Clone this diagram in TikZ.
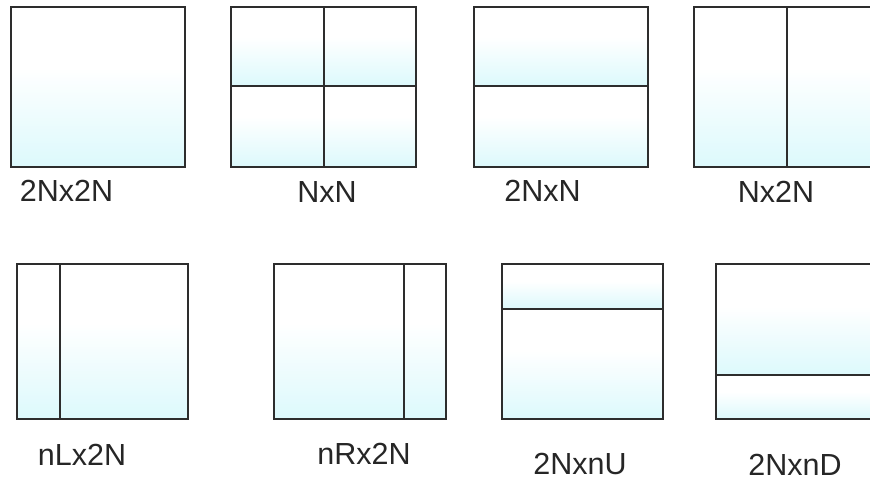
\documentclass[tikz,border=0pt]{standalone}
\usepackage{fontspec}
\setmainfont{Liberation Sans}
\definecolor{lc}{RGB}{220,249,252}
\definecolor{edge}{RGB}{45,45,45}
\pgfdeclareverticalshading{cellshade}{100bp}{color(0bp)=(lc); color(25bp)=(lc); color(56bp)=(white); color(100bp)=(white)}
\begin{document}
\begin{tikzpicture}[x=1pt,y=-1pt,
  cell/.style={shading=cellshade, draw=edge, line width=1.2pt},
  lbl/.style={inner sep=0pt, font=\fontsize{30.5}{31}\selectfont, text=black!85}]
\useasboundingbox (0,0) rectangle (870,481);
\begin{scope}
\clip (0,0) rectangle (870,481);
% 2Nx2N
\shade[cell] (11,7) rectangle (185,167);
% NxN
\shade[cell] (231,7) rectangle (324,86);
\shade[cell] (324,7) rectangle (416,86);
\shade[cell] (231,86) rectangle (324,167);
\shade[cell] (324,86) rectangle (416,167);
% 2NxN
\shade[cell] (474,7) rectangle (648,86);
\shade[cell] (474,86) rectangle (648,167);
% Nx2N
\shade[cell] (694,7) rectangle (787,167);
\shade[cell] (787,7) rectangle (882,167);
% nLx2N
\shade[cell] (17,264) rectangle (60,419);
\shade[cell] (60,264) rectangle (188,419);
% nRx2N
\shade[cell] (274,264) rectangle (404,419);
\shade[cell] (404,264) rectangle (446,419);
% 2NxnU
\shade[cell] (502,264) rectangle (663,309);
\shade[cell] (502,309) rectangle (663,419);
% 2NxnD
\shade[cell] (716,264) rectangle (882,375);
\shade[cell] (716,375) rectangle (882,419);
\end{scope}
\node[lbl] (l1) at (66.5,191) {2Nx2N};
\node[lbl] (l2) at (327,192) {NxN};
\node[lbl] (l3) at (542.5,191) {2NxN};
\node[lbl] (l4) at (776,192) {Nx2N};
\node[lbl] (l5) at (82,455) {nLx2N};
\node[lbl] (l6) at (364,454) {nRx2N};
\node[lbl] (l7) at (580,464) {2NxnU};
\node[lbl] (l8) at (795,465) {2NxnD};
\end{tikzpicture}
\end{document}
